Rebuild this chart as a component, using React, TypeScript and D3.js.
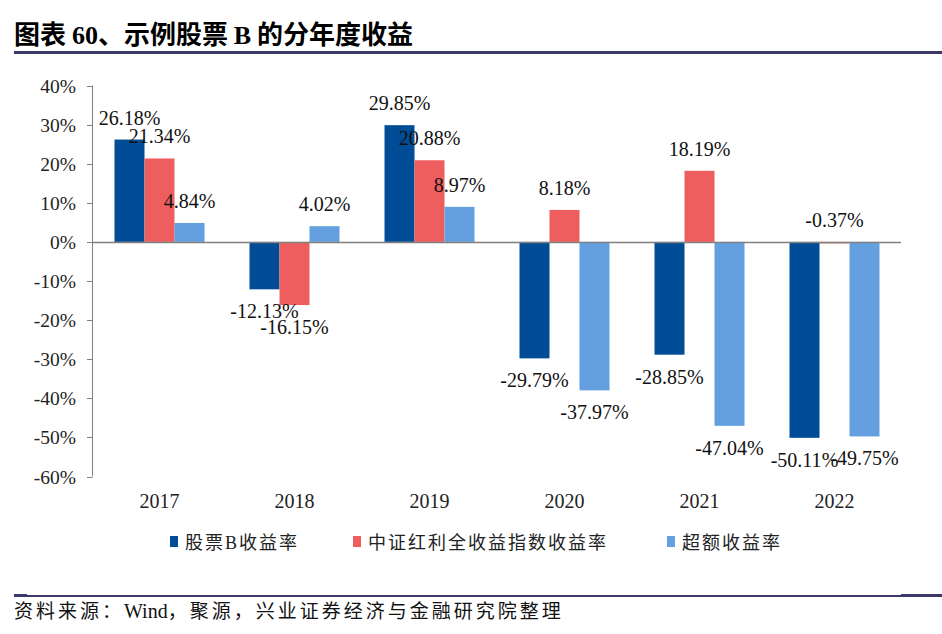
import React from "react";
import * as d3 from "d3";

const categories = ["2017", "2018", "2019", "2020", "2021", "2022"];
const seriesNames = ["股票B收益率", "中证红利全收益指数收益率", "超额收益率"];
const stockB = [26.18, -12.13, 29.85, -29.79, -28.85, -50.11];
const indexRet = [21.34, -16.15, 20.88, 8.18, 18.19, -0.37];
const excessRet = [4.84, 4.02, 8.97, -37.97, -47.04, -49.75];
const yTicks = [40, 30, 20, 10, 0, -10, -20, -30, -40, -50, -60];
const colors = ["#004C97", "#EE5E5E", "#64A0E0"];

const W = 942;
const H = 634;
const serif = "'Liberation Serif', 'Times New Roman', serif";
const cjk = "'Noto Sans CJK SC', sans-serif";

export default function App() {
  const series = [stockB, indexRet, excessRet];
  const x0 = d3.scaleBand<string>().domain(categories).range([92, 902]).paddingInner(1 / 3).paddingOuter(1 / 6);
  const x1 = d3.scaleBand<number>().domain([0, 1, 2]).range([0, x0.bandwidth()]);
  const y = d3.scaleLinear().domain([-60, 40]).range([476.5, 85.5]);

  return (
    <svg width={W} height={H} style={{ position: "absolute", left: 0, top: 0, background: "#fff" }}>
      <text x={14} y={44} fontFamily={cjk} fontWeight={700} fontSize={26} fill="#000">
        图表 <tspan fontFamily={serif}>60</tspan>、示例股票 <tspan fontFamily={serif}>B</tspan> 的分年度收益
      </text>
      <rect x={14} y={51} width={928} height={3} fill="#3B3A6B" />

      {/* y axis */}
      <line x1={92.5} x2={92.5} y1={y(40)} y2={y(-60)} stroke="#808080" strokeWidth={1} />
      {yTicks.map((t) => (
        <g key={t}>
          <line x1={87} x2={92.5} y1={Math.round(y(t)) + 0.5} y2={Math.round(y(t)) + 0.5} stroke="#808080" />
          <text x={76} y={y(t) + 7} textAnchor="end" fontFamily={serif} fontSize={19.5} fill="#222">
            {t}%
          </text>
        </g>
      ))}

      {/* bars */}
      {series.map((vals, si) =>
        vals.map((v, ci) => {
          const bx = (x0(categories[ci]) ?? 0) + (x1(si) ?? 0);
          const top = Math.min(y(v), y(0));
          const h = Math.abs(y(v) - y(0));
          return <rect key={`${si}-${ci}`} x={bx} y={top} width={x1.bandwidth()} height={Math.max(h, 1)} fill={colors[si]} />;
        })
      )}

      {/* zero line */}
      <line x1={92} x2={901} y1={Math.round(y(0)) + 0.5} y2={Math.round(y(0)) + 0.5} stroke="#808080" strokeWidth={1.5} />

      {/* labels */}
      {series.map((vals, si) =>
        vals.map((v, ci) => {
          const cx = (x0(categories[ci]) ?? 0) + (x1(si) ?? 0) + x1.bandwidth() / 2;
          const ly = v >= 0 || Math.abs(v) < 1 ? Math.min(y(v), y(0)) - 15 : y(v) + 29;
          return (
            <text key={`l${si}-${ci}`} x={cx} y={ly} textAnchor="middle" fontFamily={serif} fontSize={20} fill="#111">
              {v.toFixed(2)}%
            </text>
          );
        })
      )}

      {/* x labels */}
      {categories.map((c) => (
        <text key={c} x={(x0(c) ?? 0) + x0.bandwidth() / 2} y={508} textAnchor="middle" fontFamily={serif} fontSize={20} fill="#222">
          {c}
        </text>
      ))}

      {/* legend */}
      {[
        { x: 170, name: seriesNames[0] },
        { x: 353, name: seriesNames[1] },
        { x: 667, name: seriesNames[2] },
      ].map((l, i) => (
        <g key={l.name}>
          <rect x={l.x} y={536} width={8} height={11} fill={colors[i]} />
          <text x={l.x + 15} y={549} fontFamily={`${serif}, ${cjk}`} fontSize={18} letterSpacing={2} fill="#222">
            {l.name}
          </text>
        </g>
      ))}

      {/* bottom line */}
      <rect x={14} y={595} width={928} height={2} fill="#3B3A6B" />
      <rect x={14} y={594} width={13} height={3} fill="#3B3A6B" />
      <rect x={901} y={594} width={41} height={3} fill="#3B3A6B" />
      <text x={14} y={618} fontFamily={cjk} fontSize={19} letterSpacing={3} fill="#111">
        资料来源：<tspan fontFamily={serif} fontSize={20} letterSpacing={0}>Wind</tspan>，聚源，兴业证券经济与金融研究院整理
      </text>
    </svg>
  );
}
